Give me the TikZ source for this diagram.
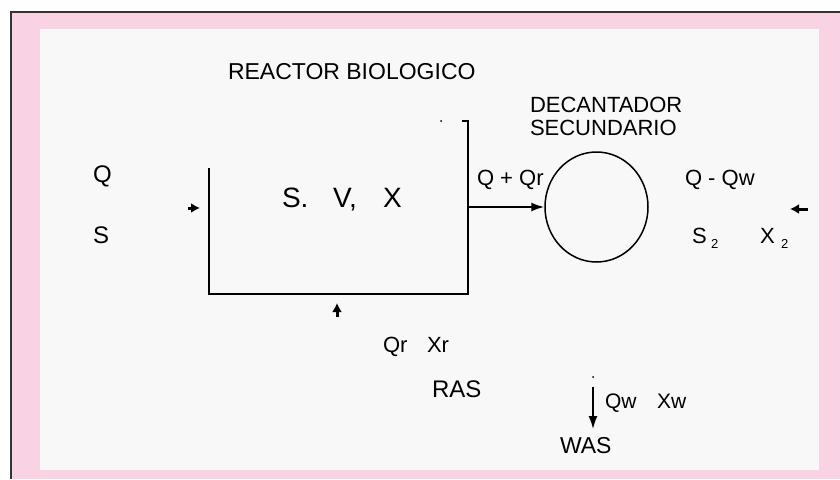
\documentclass[tikz,border=0pt]{standalone}
\usepackage{fontspec}
\setmainfont{Liberation Sans}
\usetikzlibrary{arrows.meta,shapes.geometric}
\definecolor{pinkbg}{HTML}{F9D3E3}
\definecolor{panelbg}{HTML}{F8F8F8}
\definecolor{framec}{HTML}{333333}
\newcommand{\fsz}[1]{\fontsize{#1}{#1}\selectfont}
\begin{document}
\begin{tikzpicture}[x=1pt,y=-1pt,
  lbl/.style={anchor=base west,inner sep=0pt,outer sep=0pt,text=black},
  wall/.style={draw=black,line width=2pt},
  flow/.style={draw=black,line width=1.8pt,-{Latex[length=13pt,width=9pt]}},
  stub/.style={draw=black,line width=3pt,-{Latex[length=9pt,width=10pt]}}]
\useasboundingbox (0,0) rectangle (840,479);
% background and frame
\fill[white] (0,0) rectangle (840,479);
\fill[pinkbg] (11,12) rectangle (840,479);
\draw[framec,line width=2pt] (11,479) -- (11,12) -- (840,12);
\fill[panelbg] (40,29) rectangle (819,470);

% titles
\node[lbl,font=\fsz{23}] (title) at (228,79) {REACTOR BIOLOGICO};
\node[lbl,font=\fsz{22}] (dec1) at (530,112) {DECANTADOR};
\node[lbl,font=\fsz{22}] (dec2) at (530,135) {SECUNDARIO};

% reactor walls
\coordinate (rtl) at (209,168);
\coordinate (rbl) at (209,294);
\coordinate (rbr) at (468,294);
\coordinate (rtr) at (468,121);
\coordinate (rout) at (468,207);
\draw[wall] (rtl) -- (rbl) -- (rbr) -- (rtr) -- ++(-6,0);
\fill (441,121) circle (1pt);

% reactor contents
\node[lbl,font=\fsz{28}] (sv) at (282,207) {S.};
\node[lbl,font=\fsz{28}] (vv) at (333,207) {V,};
\node[lbl,font=\fsz{28}] (xv) at (383,207) {X};

% influent
\node[lbl,font=\fsz{24}] (qin) at (93,182) {Q};
\node[lbl,font=\fsz{24}] (sin) at (93,243) {S};
\coordinate (inA) at (188,208);
\coordinate (inB) at (200,208);
\draw[stub] (inA) -- (inB);

% decanter
\node[draw=black,line width=1.5pt,ellipse,minimum width=103pt,minimum height=110pt,inner sep=0pt] (dec) at (596.5,207) {};
\draw[flow] (rout) -- (dec.west);
\node[lbl,font=\fsz{22}] (qqr) at (477,185) {Q + Qr};

% effluent
\node[lbl,font=\fsz{22}] (qqw) at (685,185) {Q - Qw};
\coordinate (effA) at (808,209);
\coordinate (effB) at (790,209);
\draw[stub] (effA) -- (effB);
\node[lbl,font=\fsz{22}] (s2) at (692,243) {S};
\node[lbl,font=\fsz{13}] (s2i) at (711,248) {2};
\node[lbl,font=\fsz{22}] (x2) at (760,243) {X};
\node[lbl,font=\fsz{13}] (x2i) at (781,248) {2};

% return sludge
\coordinate (rasA) at (337,317);
\coordinate (rasB) at (337,303);
\draw[stub] (rasA) -- (rasB);
\node[lbl,font=\fsz{22}] (qr) at (383,352) {Qr};
\node[lbl,font=\fsz{22}] (xr) at (427,352) {Xr};
\node[lbl,font=\fsz{24}] (ras) at (432,397) {RAS};

% waste sludge
\fill (593,377) circle (1pt);
\coordinate (wasA) at (593,387);
\coordinate (wasB) at (593,429);
\draw[flow,line width=1.5pt] (wasA) -- (wasB);
\node[lbl,font=\fsz{21}] (qw) at (605,408) {Qw};
\node[lbl,font=\fsz{21}] (xw) at (657,408) {Xw};
\node[lbl,font=\fsz{23}] (was) at (560,453) {WAS};
\end{tikzpicture}
\end{document}
